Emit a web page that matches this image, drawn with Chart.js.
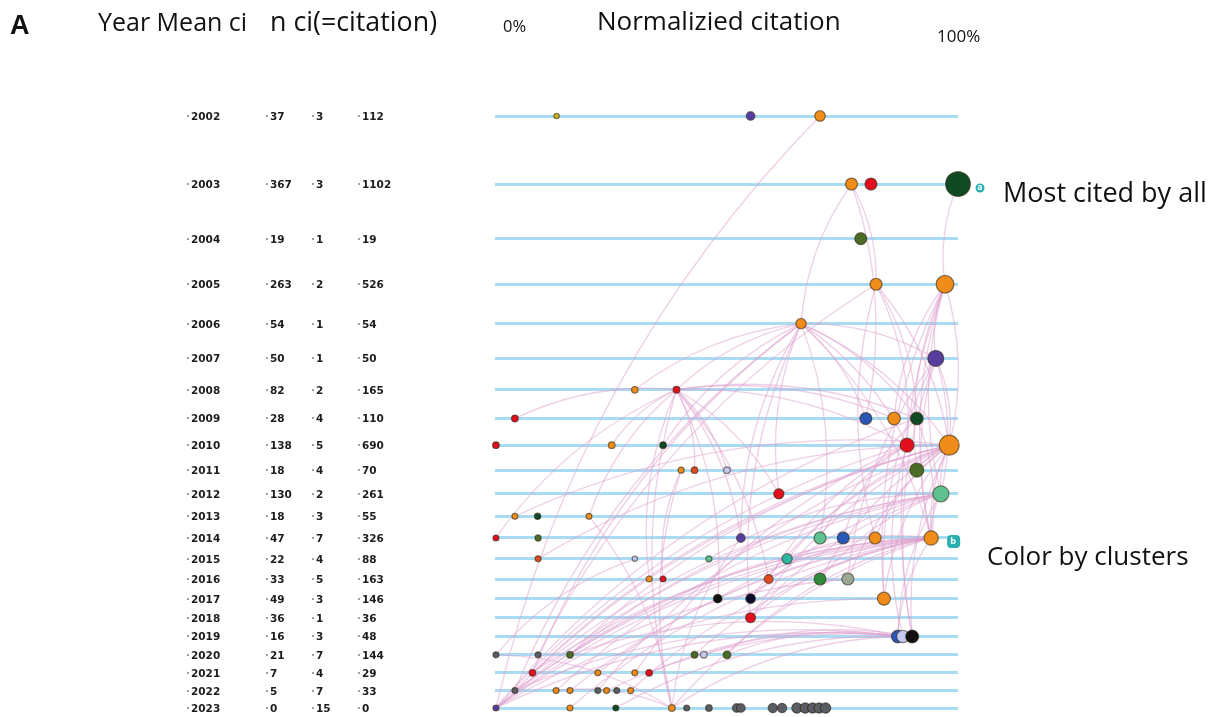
<!DOCTYPE html>
<html>
<head>
<meta charset="utf-8">
<script src="https://cdn.jsdelivr.net/npm/chart.js@4.4.1/dist/chart.umd.min.js"></script>
<style>
  html, body { margin: 0; padding: 0; background: #fff; }
  #wrap { position: relative; width: 1221px; height: 717px; overflow: hidden; font-family: 'Open Sans', 'Noto Sans', sans-serif; color: #111; }
  #chart { position: absolute; left: 0; top: 0; }
  .lbl { position: absolute; white-space: nowrap; line-height: 1; }
  .cell { position: absolute; white-space: nowrap; font: bold 10.5px 'DejaVu Sans', sans-serif; color: #1c1c1c; line-height: 12px; }
  .cell i { font-style: normal; color: #999; margin-right: 1px; }
</style>
</head>
<body>
<div id="wrap">
  <canvas id="chart" width="1221" height="717"></canvas>
  <div class="lbl" style="left:10px;top:10px;font:bold 27px 'Liberation Sans',sans-serif;">A</div>
  <div class="lbl" style="left:98px;top:9px;font-size:25px;">Year Mean ci</div>
  <div class="lbl" style="left:270px;top:8px;font-size:26.8px;">n ci(=citation)</div>
  <div class="lbl" style="left:503px;top:18px;font-size:16.5px;">0%</div>
  <div class="lbl" style="left:597px;top:7px;font-size:26px;">Normalizied citation</div>
  <div class="lbl" style="left:937px;top:27px;font-size:17px;">100%</div>
  <div class="lbl" style="left:1003px;top:178px;font-size:27px;">Most cited by all</div>
  <div class="lbl" style="left:987px;top:542px;font-size:26px;">Color by clusters</div>
</div>
<script>
// ---- 表格数据（每年一行）----
const YEARS   = [2002,2003,2004,2005,2006,2007,2008,2009,2010,2011,2012,2013,2014,2015,2016,2017,2018,2019,2020,2021,2022,2023];
const MEAN_CI = [37,367,19,263,54,50,82,28,138,18,130,18,47,22,33,49,36,16,21,7,5,0];
const N_PAPER = [3,3,1,2,1,1,2,4,5,4,2,3,7,4,5,3,1,3,7,4,7,15];
const CI      = [112,1102,19,526,54,50,165,110,690,70,261,55,326,88,163,146,36,48,144,29,33,0];

// 聚类颜色
const CLUSTER_COLORS = {
  orange: '#f08c1a', red: '#e2101f', dkgreen: '#0f4a25', olive: '#4b6b27',
  purple: '#573e9e', blue: '#2b57b6', mint: '#5dc28f', teal: '#2fb7a1',
  green: '#2f8b3b', greygreen: '#9ba994', black: '#111111', navy: '#0b0b30',
  lavender: '#c3c9f0', grey: '#5a5e64', yellow: '#c9b51a', redorange: '#e2491f'
};

// 节点: [id, 年份, 归一化引用(%), 权重, 聚类]
const NODES = [
  ['02a',2002,13.3,6,'yellow'], ['02b',2002,55.2,60,'purple'], ['02c',2002,70.2,120,'orange'],
  ['03a',2003,77.0,178,'orange'], ['03b',2003,81.2,178,'red'], ['03c',2003,100,1200,'dkgreen'],
  ['04a',2004,79.0,178,'olive'],
  ['05a',2005,82.3,178,'orange'], ['05b',2005,97.2,520,'orange'],
  ['06a',2006,66.1,110,'orange'],
  ['07a',2007,95.2,400,'purple'],
  ['08a',2008,30.2,18,'orange'], ['08b',2008,39.2,22,'red'],
  ['09a',2009,4.3,22,'red'], ['09b',2009,80.1,178,'blue'], ['09c',2009,86.2,210,'orange'], ['09d',2009,91.1,210,'dkgreen'],
  ['10a',2010,0.2,20,'red'], ['10b',2010,25.2,20,'orange'], ['10c',2010,36.3,20,'dkgreen'], ['10d',2010,89.0,278,'red'], ['10e',2010,98.1,711,'orange'],
  ['11a',2011,40.2,12,'orange'], ['11b',2011,43.1,18,'redorange'], ['11c',2011,50.1,20,'lavender'], ['11d',2011,91.1,278,'olive'],
  ['12a',2012,61.3,110,'red'], ['12b',2012,96.3,400,'mint'],
  ['13a',2013,4.3,11,'orange'], ['13b',2013,9.2,16,'dkgreen'], ['13c',2013,20.3,11,'orange'],
  ['14a',2014,0.2,11,'red'], ['14b',2014,9.3,13,'olive'], ['14c',2014,53.1,60,'purple'], ['14d',2014,70.2,178,'mint'],
  ['14e',2014,75.2,178,'blue'], ['14f',2014,82.1,178,'orange'], ['14g',2014,94.2,300,'orange'],
  ['15a',2015,9.3,11,'redorange'], ['15b',2015,30.2,4,'lavender'], ['15c',2015,46.2,12,'mint'], ['15d',2015,63.1,110,'teal'],
  ['16a',2016,33.3,11,'orange'], ['16b',2016,36.3,11,'red'], ['16c',2016,59.1,65,'redorange'], ['16d',2016,70.2,178,'green'], ['16e',2016,76.2,178,'greygreen'],
  ['17a',2017,48.1,60,'black'], ['17b',2017,55.2,90,'navy'], ['17c',2017,84.0,225,'orange'],
  ['18a',2018,55.2,100,'red'],
  ['19a',2019,87.0,210,'blue'], ['19b',2019,88.1,200,'lavender'], ['19c',2019,90.1,225,'black'],
  ['20a',2020,0.2,11,'grey'], ['20b',2020,9.3,11,'grey'], ['20c',2020,16.2,20,'olive'], ['20d',2020,43.1,20,'olive'], ['20e',2020,45.1,20,'lavender'], ['20f',2020,50.1,40,'olive'],
  ['21a',2021,8.1,20,'red'], ['21b',2021,22.2,11,'orange'], ['21c',2021,30.2,11,'orange'], ['21d',2021,33.3,20,'red'],
  ['22a',2022,4.3,11,'grey'], ['22b',2022,13.2,11,'orange'], ['22c',2022,16.2,11,'orange'], ['22d',2022,22.2,11,'grey'],
  ['22e',2022,24.1,11,'orange'], ['22f',2022,26.3,11,'grey'], ['22g',2022,29.3,11,'orange'],
  ['23a',2023,0.2,11,'purple'], ['23b',2023,16.2,11,'orange'], ['23c',2023,26.1,11,'dkgreen'], ['23d',2023,38.2,20,'orange'],
  ['23e',2023,41.4,11,'grey'], ['23f',2023,46.2,20,'grey'], ['23g',2023,52.2,60,'grey'], ['23h',2023,53.1,60,'grey'],
  ['23i',2023,60.0,80,'grey'], ['23j',2023,62.0,80,'grey'], ['23k',2023,65.2,110,'grey'], ['23l',2023,67.0,110,'grey'],
  ['23m',2023,68.6,110,'grey'], ['23n',2023,70.0,110,'grey'], ['23o',2023,71.4,110,'grey']
];

// 引用关系: [引用方, 被引方]
const LINKS = [
  ['23a','02c'], ['23a','14g'], ['23a','19a'], ['23a','10d'], ['23a','12b'], ['23a','16e'], ['23a','17c'], ['23a','09d'], ['23a','14f'],
  ['23d','08b'], ['23d','11a'], ['23d','14c'], ['23d','19a'], ['23d','14g'], ['23d','20a'], ['23d','22b'], ['23d','13c'],
  ['23b','14g'], ['23c','19b'],
  ['22a','14g'], ['22a','19b'], ['22a','10e'], ['22a','06a'], ['22b','12b'], ['22c','14g'], ['22e','19c'], ['22g','14g'], ['22d','10e'],
  ['21a','10e'], ['21a','14g'], ['21a','12b'], ['21a','06a'], ['21d','19a'], ['21b','14g'], ['21c','10d'],
  ['20c','19b'], ['20c','14g'], ['20c','10e'], ['20c','12b'], ['20f','19a'], ['20f','14g'], ['20d','14g'], ['20a','15b'], ['20b','05a'], ['20e','19c'],
  ['19c','10e'], ['19c','07a'], ['19c','05b'], ['19a','14g'], ['19a','12b'], ['19b','10d'],
  ['18a','14g'], ['18a','10e'], ['18a','12b'], ['18a','06a'],
  ['17c','10e'], ['17c','07a'], ['17c','05b'], ['17a','14g'], ['17a','08b'], ['17b','10e'], ['17b','12b'],
  ['16d','10e'], ['16d','12b'], ['16e','10e'], ['16e','07a'], ['16c','10d'], ['16c','08b'], ['16a','08b'], ['16b','11a'],
  ['15d','14g'], ['15d','10e'], ['15c','12b'], ['15a','10e'],
  ['14g','10e'], ['14g','05b'], ['14g','07a'], ['14g','09d'], ['14g','12b'], ['14g','06a'],
  ['14f','10e'], ['14f','05a'], ['14d','10d'], ['14d','06a'], ['14e','09d'], ['14c','08b'], ['14c','06a'], ['14a','08b'],
  ['13a','10e'], ['13c','08b'],
  ['12b','05b'], ['12b','07a'], ['12b','10e'], ['12a','08b'], ['12a','06a'],
  ['11d','10e'], ['11d','05b'], ['11c','08b'], ['11b','08b'],
  ['10e','05b'], ['10e','07a'], ['10e','06a'], ['10e','05a'], ['10d','05a'], ['10d','06a'], ['10d','08b'], ['10c','06a'], ['10b','08b'],
  ['09d','08b'], ['09d','06a'], ['09d','05a'], ['09c','08b'], ['09c','05b'], ['09b','06a'], ['09b','03a'], ['09a','08b'],
  ['08b','06a'], ['08a','06a'], ['07a','05b'], ['07a','06a'], ['06a','03a'], ['05a','03a'], ['05b','03c']
];

// 半径由权重换算
const radiusOf = w => 2 + 0.3 * Math.sqrt(w);

// 年份轴: 早年间距大, 近年间距小
class WarpScale extends Chart.LinearScale {
  buildTicks() { return YEARS.map(v => ({ value: v })); }
  warp(v) { return -1 / (v - 1996) + 0.006303 * v; }
  getPixelForValue(v) {
    if (v === null || v === undefined || isNaN(v)) return NaN;
    const a = this.warp(this.min), b = this.warp(this.max);
    return this.getPixelForDecimal((this.warp(v) - a) / (b - a));
  }
  getValueForPixel(p) {
    const dec = this.getDecimalForPixel(p);
    const a = this.warp(this.min), b = this.warp(this.max), target = a + dec * (b - a);
    let lo = this.min, hi = this.max;
    for (let i = 0; i < 40; i++) {
      const m = (lo + hi) / 2;
      if (this.warp(m) < target) lo = m; else hi = m;
    }
    return (lo + hi) / 2;
  }
}
WarpScale.id = 'warp';
WarpScale.defaults = Chart.LinearScale.defaults;
Chart.register(WarpScale);

const nodeById = {};
NODES.forEach(n => { nodeById[n[0]] = n; });

// 粉色引用曲线
const linkPlugin = {
  id: 'links',
  beforeDatasetsDraw(chart) {
    const { ctx, scales: { x, y } } = chart;
    ctx.save();
    ctx.strokeStyle = 'rgba(222,160,205,0.5)';
    ctx.lineWidth = 1.3;
    LINKS.forEach(([s, t]) => {
      const a = nodeById[s], b = nodeById[t];
      const x1 = x.getPixelForValue(a[2]), y1 = y.getPixelForValue(a[1]);
      const x2 = x.getPixelForValue(b[2]), y2 = y.getPixelForValue(b[1]);
      const dx = x2 - x1, dy = y2 - y1;
      let px = -dy, py = dx;
      if (py > 0) { px = -px; py = -py; }
      const k = 0.14;
      const cx = (x1 + x2) / 2 + px * k, cy = (y1 + y2) / 2 + py * k;
      ctx.beginPath();
      ctx.moveTo(x1, y1);
      ctx.quadraticCurveTo(cx, cy, x2, y2);
      ctx.stroke();
    });
    ctx.restore();
  },
  afterDatasetsDraw(chart) {
    // 青色标注符号
    const { ctx, scales: { x, y } } = chart;
    ctx.save();
    ctx.fillStyle = '#2aaeb0';
    [['03c', 22], ['14g', 22]].forEach(([id, off], i) => {
      const n = nodeById[id];
      const px = x.getPixelForValue(n[2]) + off, py = y.getPixelForValue(n[1]) + 4;
      ctx.beginPath();
      if (i === 0) { ctx.arc(px, py, 4.5, 0, Math.PI * 2); }
      else { ctx.roundRect(px - 6, py - 7, 13, 13, 4); }
      ctx.fill();
      ctx.fillStyle = '#e8fbfb';
      ctx.font = 'bold 8px DejaVu Sans';
      ctx.textAlign = 'center';
      ctx.textBaseline = 'middle';
      ctx.fillText(i === 0 ? 'a' : 'b', px, py);
      ctx.fillStyle = '#2aaeb0';
    });
    ctx.restore();
  }
};

const chart = new Chart(document.getElementById('chart'), {
  type: 'bubble',
  data: {
    datasets: [{
      data: NODES.map(n => ({ x: n[2], y: n[1], r: radiusOf(n[3]) })),
      backgroundColor: NODES.map(n => CLUSTER_COLORS[n[4]]),
      borderColor: 'rgba(40,30,10,0.55)',
      borderWidth: 1.2,
      clip: false
    }]
  },
  options: {
    responsive: false,
    animation: false,
    events: [],
    layout: { autoPadding: false, padding: { left: 495, right: 263, top: 116, bottom: 9 } },
    scales: {
      x: { type: 'linear', min: 0, max: 100, display: false },
      y: {
        type: 'warp', min: 2002, max: 2023, reverse: true,
        ticks: { display: false },
        border: { display: false },
        grid: { color: '#a9dbf1', lineWidth: 3, drawTicks: false }
      }
    },
    plugins: { legend: { display: false }, tooltip: { enabled: false } }
  },
  plugins: [linkPlugin]
});

// 左侧表格
const wrap = document.getElementById('wrap');
const COL_X = [186, 265, 311, 357];
YEARS.forEach((yr, i) => {
  const py = chart.scales.y.getPixelForValue(yr);
  [yr, MEAN_CI[i], N_PAPER[i], CI[i]].forEach((v, c) => {
    const d = document.createElement('div');
    d.className = 'cell';
    d.style.left = COL_X[c] + 'px';
    d.style.top = (py - 6) + 'px';
    d.innerHTML = '<i>·</i>' + v;
    wrap.appendChild(d);
  });
});
</script>
</body>
</html>
